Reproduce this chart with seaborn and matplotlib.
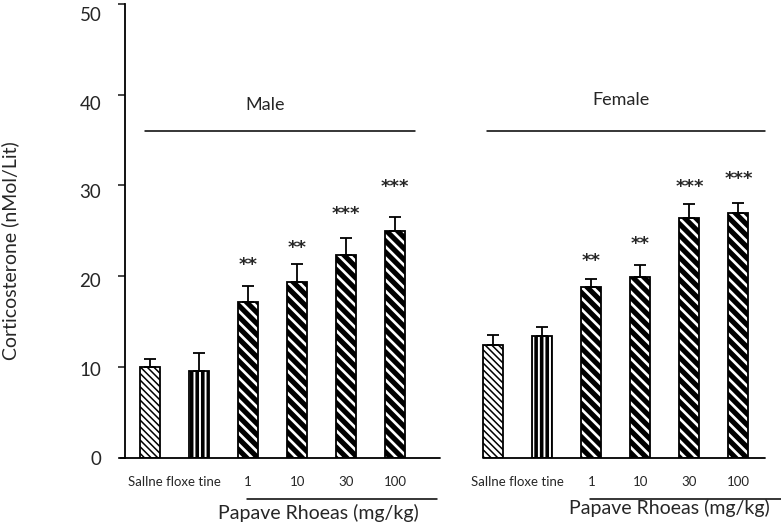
import matplotlib
matplotlib.use("Agg")
import matplotlib.pyplot as plt
import matplotlib.transforms as mtransforms
import seaborn as sns
import pandas as pd

# data
groups = ["Male", "Female"]
doses = ["Saline", "Saline2", "1", "10", "30", "100"]
male_mean = [10.05, 9.6, 17.2, 19.4, 22.3, 25.0]
male_sem = [0.8, 1.9, 1.7, 2.0, 1.9, 1.5]
female_mean = [12.4, 13.45, 18.8, 19.9, 26.4, 27.0]
female_sem = [1.1, 0.95, 0.95, 1.35, 1.6, 1.1]
male_stars = ["", "", "**", "**", "***", "***"]
female_stars = ["", "", "**", "**", "***", "***"]
male_star_y = [0, 0, 21.2, 23.1, 26.8, 29.8]
female_star_y = [0, 0, 21.7, 23.5, 29.8, 30.7]
tick_labels = ["Sallne floxe tine", "1", "10", "30", "100"]
y_ticks = [0, 10, 20, 30, 40, 50]

pos = list(range(6)) + list(range(7, 13))
df = pd.DataFrame({
    "pos": pos,
    "value": male_mean + female_mean,
    "sem": male_sem + female_sem,
    "group": ["Male"] * 6 + ["Female"] * 6,
})

sns.set_style("white")
plt.rcParams["font.family"] = ["Lato", "DejaVu Sans"]

fig = plt.figure(figsize=(7.81, 5.24), dpi=100)
ax = fig.add_axes([0.16, 0.126, 0.82, 0.867])

sns.barplot(data=df, x="pos", y="value", native_scale=True, width=0.41,
            color="white", edgecolor="black", linewidth=1.3, errorbar=None,
            saturation=1, ax=ax)

styles = [("\\\\\\\\\\", 1.1), ("|||", 2.6)] + [("\\\\\\", 3.7)] * 4
for i, p in enumerate(ax.patches):
    hatch, lw = styles[i % 6]
    p.set_hatch(hatch)
    if hasattr(p, "set_hatch_linewidth"):
        p.set_hatch_linewidth(lw)
    else:
        p._hatch_linewidth = lw

# upper error bars only
ax.errorbar(df["pos"], df["value"], yerr=[[0] * len(df), df["sem"]],
            fmt="none", ecolor="black", elinewidth=1.3, capsize=4, capthick=1.3)

# stars
for i in range(6):
    if male_stars[i]:
        ax.text(i, male_star_y[i], male_stars[i], ha="center", va="center",
                fontsize=13, fontweight="bold", family="DejaVu Sans")
    if female_stars[i]:
        ax.text(i + 7, female_star_y[i], female_stars[i], ha="center", va="center",
                fontsize=13, fontweight="bold", family="DejaVu Sans")

ax.set_xlim(-0.51, 12.55)
ax.set_ylim(0, 50)
ax.set_yticks(y_ticks)
ax.tick_params(axis="y", direction="out", length=5, width=1.2, labelsize=13.5, left=True, pad=12)
ax.set_ylabel("Corticosterone (nMol/Lit)", fontsize=14)
ax.yaxis.set_label_coords(-0.165, 0.457)

# the reference tick labels drift slightly below their ticks towards the top
for v, lab in zip(y_ticks, ax.get_yticklabels()):
    off = mtransforms.ScaledTranslation(0, -v / 5 / 100, fig.dpi_scale_trans)
    lab.set_transform(lab.get_transform() + off)

ax.set_xticks([0.5, 2, 3, 4, 5, 7.5, 9, 10, 11, 12])
ax.set_xticklabels(tick_labels + tick_labels, fontsize=9.5)
ax.tick_params(axis="x", length=0, pad=13)
ax.set_xlabel("")

for s in ["top", "right", "bottom"]:
    ax.spines[s].set_visible(False)
ax.spines["left"].set_linewidth(1.3)
ax.spines["left"].set_color("black")

# baselines per group
ax.plot([-0.61, 5.92], [0, 0], color="black", lw=1.3, clip_on=False)
ax.plot([6.8, 12.55], [0, 0], color="black", lw=1.3, clip_on=False)

# group labels and lines
ax.text(2.35, 38.8, "Male", ha="center", va="center", fontsize=13)
ax.plot([-0.1, 5.4], [36.0, 36.0], color="black", lw=1.1)
ax.text(9.6, 39.4, "Female", ha="center", va="center", fontsize=13)
ax.plot([6.88, 12.55], [36.0, 36.0], color="black", lw=1.1, clip_on=False)

# dose lines and labels under axis
ax.plot([1.98, 5.86], [-4.5, -4.5], color="black", lw=1.1, clip_on=False)
ax.text(3.43, -6.05, "Papave Rhoeas (mg/kg)", ha="center", va="center", fontsize=14)
ax.plot([8.98, 12.9], [-4.5, -4.5], color="black", lw=1.1, clip_on=False)
ax.text(10.6, -5.5, "Papave Rhoeas (mg/kg)", ha="center", va="center", fontsize=14)

fig.savefig("out.png", dpi=100)
